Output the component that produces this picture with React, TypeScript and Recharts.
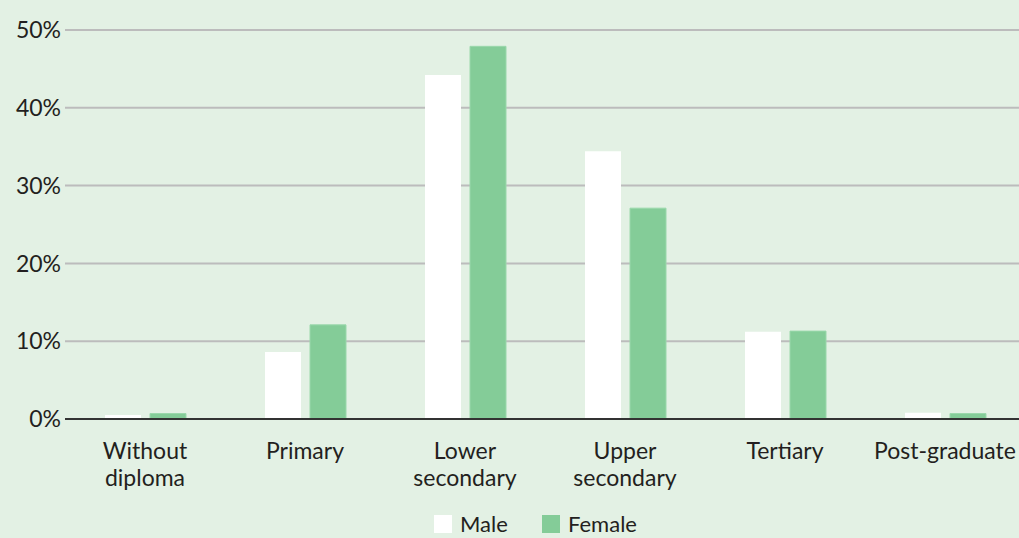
import { BarChart, Bar, XAxis, YAxis, CartesianGrid, Legend } from 'recharts';

const categories = ['Without diploma', 'Primary', 'Lower secondary', 'Upper secondary', 'Tertiary', 'Post-graduate'];
const maleValues = [0.5, 8.6, 44.2, 34.4, 11.2, 0.8];
const femaleValues = [0.7, 12.1, 47.9, 27.1, 11.3, 0.7];
const yTicks = [0, 10, 20, 30, 40, 50];

const data = categories.map((name, i) => ({ name, male: maleValues[i], female: femaleValues[i] }));

const FONT = 'Lato, sans-serif';
const TEXT = '#231f20';
const BG = '#e3f1e4';
const GREEN = '#84cc98';

// splits two-word labels onto two lines
function CategoryTick(props: any) {
  const { x, y, payload } = props;
  const label: string = payload.value;
  const lines = label.includes(' ') ? label.split(' ') : [label];
  return (
    <text x={x} y={y} textAnchor="middle" fill={TEXT} fontFamily={FONT} fontSize={23}>
      {lines.map((l, i) => (
        <tspan key={i} x={x} y={y + 40 + i * 27}>{l}</tspan>
      ))}
    </text>
  );
}

function LegendBox() {
  return (
    <svg width={1019} height={30} style={{ display: 'block', overflow: 'visible' }}>
      <rect x={434} y={7} width={18} height={18} fill="#ffffff" />
      <text x={460} y={24} fill={TEXT} fontFamily={FONT} fontSize={22}>Male</text>
      <rect x={542} y={7} width={18} height={18} fill={GREEN} />
      <text x={568} y={24} fill={TEXT} fontFamily={FONT} fontSize={22}>Female</text>
    </svg>
  );
}

export default function App() {
  return (
    <div style={{ position: 'absolute', left: 0, top: 0, width: 1019, height: 538, overflow: 'hidden', background: BG }}>
      <BarChart
        width={1025}
        height={538}
        data={data}
        margin={{ top: 30, right: 0, bottom: 0, left: 0 }}
        barSize={36}
        barGap={9}
      >
        <CartesianGrid horizontal vertical={false} stroke="#bcbcbc" strokeWidth={2} />
        <XAxis
          dataKey="name"
          height={89}
          tickLine={false}
          tickSize={0}
          tickMargin={0}
          interval={0}
          axisLine={{ stroke: '#333333', strokeWidth: 2 }}
          tick={<CategoryTick />}
        />
        <YAxis
          width={65}
          domain={[0, 50]}
          ticks={yTicks}
          axisLine={false}
          tickLine={false}
          tickSize={0}
          tickMargin={4}
          tickFormatter={(v: number) => `${v}%`}
          tick={{ fill: TEXT, fontFamily: FONT, fontSize: 23 }}
        />
        <Legend verticalAlign="bottom" content={<LegendBox />} />
        <Bar dataKey="male" name="Male" fill="#ffffff" isAnimationActive={false} />
        <Bar dataKey="female" name="Female" fill={GREEN} stroke="#9ad8ab" strokeWidth={1} isAnimationActive={false} />
      </BarChart>
    </div>
  );
}
